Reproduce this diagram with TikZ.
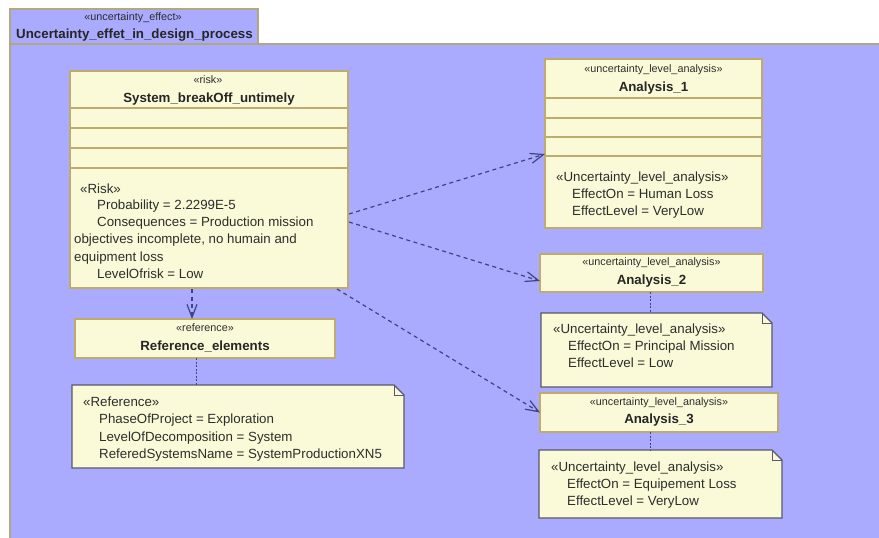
\documentclass[tikz,border=0pt]{standalone}
\usepackage{fontspec}
\setmainfont{Liberation Sans}
\usetikzlibrary{arrows.meta,calc}
\definecolor{framefill}{RGB}{170,170,255}
\definecolor{frameline}{RGB}{176,168,128}
\definecolor{boxfill}{RGB}{250,250,216}
\definecolor{boxline}{RGB}{190,172,110}
\definecolor{noteline}{RGB}{88,88,104}
\definecolor{conn}{RGB}{66,66,130}
\definecolor{txtc}{RGB}{45,45,45}
\tikzset{
 umlbox/.style={draw=boxline, fill=boxfill, line width=1.2pt, anchor=north west, inner sep=0pt, outer sep=0pt},
 framebox/.style={draw=frameline, fill=framefill, line width=1.2pt, anchor=north west, inner sep=0pt, outer sep=0pt},
 notebody/.style={anchor=north west, inner sep=0pt, outer sep=0pt},
 txt/.style={inner sep=0pt, text=txtc, font=\fontsize{13.3}{16}\selectfont, anchor=base west},
 stereo/.style={inner sep=0pt, text=txtc, font=\fontsize{10.8}{12}\selectfont, anchor=base},
 title/.style={inner sep=0pt, text=black!85, font=\bfseries\fontsize{13.3}{16}\selectfont, anchor=base},
 dep/.style={draw=conn, line width=1.2pt, dash pattern=on 4pt off 3.5pt, -{Straight Barb[length=13pt,width=10pt,line width=1.2pt]}},
 anchorline/.style={draw=conn, line width=0.9pt, dash pattern=on 2pt off 1.5pt},
 compline/.style={draw=boxline, line width=1.2pt},
}
\newcommand\umlnote[5]{%
 \node[notebody, minimum width=#4pt, minimum height=#5pt] (#1) at (#2,#3) {};
 \draw[draw=noteline, fill=boxfill, line width=1.2pt] (#1.north west) -- ([xshift=-10pt]#1.north east) -- ([yshift=-10pt]#1.north east) -- (#1.south east) -- (#1.south west) -- cycle;
 \draw[draw=noteline, line width=1pt] ([xshift=-10pt]#1.north east) -- ([xshift=-10pt,yshift=-10pt]#1.north east) -- ([yshift=-10pt]#1.north east);
}
\newcommand\tln[4]{\node[txt] (#1) at (#2,#3) {#4};}
\begin{document}
\begin{tikzpicture}[x=1pt,y=-1pt]
\useasboundingbox (0,0) rectangle (879,538);
\clip (0,0) rectangle (879,538);
\fill[white] (0,0) rectangle (879,538);
% frame
\node[framebox, minimum width=900pt, minimum height=520pt] (framebody) at (10,44) {};
\node[framebox, minimum width=248pt, minimum height=35pt] (frametab) at (10,9) {};
\node[stereo] (framest) at (133,20.5) {«uncertainty\_effect»};
\node[title] (framename) at (134.5,38) {Uncertainty\_effet\_in\_design\_process};

% System box
\node[umlbox, minimum width=278pt, minimum height=217pt] (sys) at (70,71) {};
\foreach \d in {37,57,77,97} \draw[compline] ($(sys.north west)+(0,\d)$) -- ($(sys.north east)+(0,\d)$);
\node[stereo] (sysst) at (208,83.5) {«risk»};
\node[title] (sysname) at (209,102.5) {System\_breakOff\_untimely};
\tln{sysl1}{80}{193}{«Risk»}
\tln{sysl2}{97}{209}{Probability = 2.2299E-5}
\tln{sysl3}{97}{226.2}{Consequences = Production mission}
\tln{sysl4}{74}{243.5}{objectives incomplete, no humain and}
\tln{sysl5}{74}{261}{equipment loss}
\tln{sysl6}{97}{278.3}{LevelOfrisk = Low}

% Analysis 1
\node[umlbox, minimum width=217pt, minimum height=169pt] (a1) at (545,59) {};
\foreach \d in {39,59,78,97} \draw[compline] ($(a1.north west)+(0,\d)$) -- ($(a1.north east)+(0,\d)$);
\node[stereo] (a1st) at (653.5,72.5) {«uncertainty\_level\_analysis»};
\node[title] (a1name) at (653.5,91.5) {Analysis\_1};
\tln{a1l1}{556}{181}{«Uncertainty\_level\_analysis»}
\tln{a1l2}{572}{198}{EffectOn = Human Loss}
\tln{a1l3}{572}{215.5}{EffectLevel = VeryLow}

% Analysis 2
\node[umlbox, minimum width=223pt, minimum height=38pt] (a2) at (540,254) {};
\node[stereo] (a2st) at (651.5,265.5) {«uncertainty\_level\_analysis»};
\node[title] (a2name) at (651.5,284.5) {Analysis\_2};
\umlnote{n2}{541}{313}{231}{74}
\tln{n2l1}{553}{333.5}{«Uncertainty\_level\_analysis»}
\tln{n2l2}{568}{350.5}{EffectOn = Principal Mission}
\tln{n2l3}{568}{367.5}{EffectLevel = Low}

% Analysis 3
\node[umlbox, minimum width=238pt, minimum height=39pt] (a3) at (540,393) {};
\node[stereo] (a3st) at (659,405.5) {«uncertainty\_level\_analysis»};
\node[title] (a3name) at (659,423.5) {Analysis\_3};
\umlnote{n3}{539}{450}{243}{68}
\tln{n3l1}{551}{471.5}{«Uncertainty\_level\_analysis»}
\tln{n3l2}{567}{488.5}{EffectOn = Equipement Loss}
\tln{n3l3}{567}{505.5}{EffectLevel = VeryLow}

% Reference
\node[umlbox, minimum width=260pt, minimum height=39pt] (ref) at (75,319) {};
\node[stereo] (refst) at (205,331.5) {«reference»};
\node[title] (refname) at (205,350.5) {Reference\_elements};
\umlnote{nref}{72}{385}{332}{83}
\tln{nrl1}{83}{406.5}{«Reference»}
\tln{nrl2}{99}{423.5}{PhaseOfProject = Exploration}
\tln{nrl3}{99}{441}{LevelOfDecomposition = System}
\tln{nrl4}{99}{458.5}{ReferedSystemsName = SystemProductionXN5}

% connectors
\draw[dep] ($(sys.north east)+(1,143)$) -- ($(a1.north west)+(0,95)$);
\draw[dep] ($(sys.north east)+(1,151)$) -- ($(a2.west)+(0,8)$);
\draw[dep] ($(sys.south east)+(-11,1)$) -- (a3.west);
\draw[dep] ($(sys.south west)+(122,1)$) -- ($(ref.north west)+(117,0)$);
\draw[anchorline] ($(ref.south west)+(121,0)$) -- ($(nref.north west)+(124,0)$);
\draw[anchorline] ($(a2.south west)+(110,0)$) -- ($(n2.north west)+(109,0)$);
\draw[anchorline] ($(a3.south west)+(110,0)$) -- ($(n3.north west)+(111,0)$);
\end{tikzpicture}
\end{document}
